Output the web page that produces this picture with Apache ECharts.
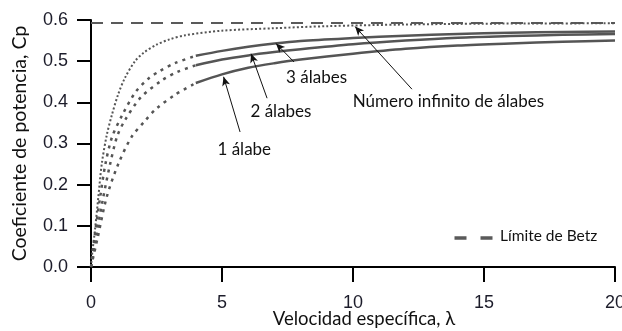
<!DOCTYPE html>
<html>
<head>
<meta charset="utf-8">
<script src="https://cdn.jsdelivr.net/npm/echarts@6/dist/echarts.min.js"></script>
<style>html,body{margin:0;padding:0;background:#fff}#c{width:622px;height:331px}</style>
</head>
<body>
<div id="c"></div>
<script>
// ---- data (λ, Cp) ----
var xTicks = [0, 5, 10, 15, 20];
var yTicks = [0.0, 0.1, 0.2, 0.3, 0.4, 0.5, 0.6];
var betz = [[0, 0.593], [20, 0.593]];
var infiniteBlades = [[0,0],[0.03,0.024],[0.15,0.089],[0.28,0.17],[0.41,0.25],[0.6,0.32],[0.8,0.37],[1.04,0.42],[1.3,0.46],[1.68,0.50],[2.0,0.52],[2.5,0.54],[3,0.553],[3.6,0.563],[5,0.574],[7,0.580],[9,0.585],[12,0.589],[15,0.591],[20,0.592]];
var blade3Low = [[0,0],[0.15,0.08],[0.35,0.17],[0.55,0.25],[0.8,0.315],[1.2,0.37],[1.7,0.425],[2.2,0.458],[2.6,0.475],[3.2,0.495],[4,0.513]];
var blade3High = [[4,0.513],[5,0.525],[6,0.535],[7,0.543],[8,0.549],[10,0.556],[12,0.562],[14,0.566],[16,0.569],[18,0.571],[20,0.572]];
var blade2Low = [[0,0],[0.2,0.075],[0.47,0.17],[0.73,0.25],[1.0,0.318],[1.3,0.357],[1.9,0.412],[2.7,0.453],[3.3,0.474],[4,0.490]];
var blade2High = [[4,0.490],[5,0.504],[6,0.514],[7,0.522],[8,0.529],[10,0.541],[12,0.550],[14,0.557],[16,0.561],[18,0.564],[20,0.566]];
var blade1Low = [[0,0],[0.25,0.07],[0.6,0.17],[1.04,0.25],[1.55,0.316],[2.06,0.355],[2.5,0.385],[3.2,0.418],[4,0.447]];
var blade1High = [[4,0.447],[5,0.468],[6,0.484],[7,0.495],[8,0.504],[10,0.518],[12,0.530],[14,0.538],[16,0.543],[18,0.547],[20,0.550]];
// annotation labels and arrows (data coordinates)
var labelTexts = ['3 álabes', '2 álabes', '1 álabe', 'Número infinito de álabes'];
var labelCoords = [[8.61, 0.461], [7.25, 0.377], [5.85, 0.286], [13.64, 0.401]];
var arrowFrom = [[7.75, 0.498], [6.72, 0.410], [5.69, 0.328], [12.25, 0.432]];
var arrowTo = [[7.06, 0.543], [6.11, 0.518], [5.06, 0.462], [10.08, 0.584]];
var legendLabel = 'Límite de Betz';

var GRAY = '#555';
var chart = echarts.init(document.getElementById('c'), null, {renderer: 'canvas'});

function curve(name, data, type, width) {
  return {
    name: name, type: 'line', data: data, smooth: 0.3, symbol: 'none',
    silent: true, z: 3,
    lineStyle: {color: GRAY, width: width, type: type, cap: 'butt'}
  };
}

var series = [
  {
    name: legendLabel, type: 'line', data: betz, symbol: 'none', silent: true,
    lineStyle: {color: '#5a5a5a', width: 2, type: [12, 8], cap: 'butt'},
    markLine: {
      silent: true, animation: false, symbol: ['none', 'arrow'], symbolSize: [6, 9],
      label: {show: false},
      lineStyle: {color: '#111', width: 1, type: 'solid'},
      data: arrowFrom.map(function (f, i) { return [{coord: f}, {coord: arrowTo[i]}]; })
    },
    markPoint: {
      silent: true, animation: false,
      data: labelTexts.map(function (t, i) {
        return {
          coord: labelCoords[i], symbol: 'circle', symbolSize: 0,
          label: {show: true, position: 'inside', formatter: t, color: '#111',
                  fontFamily: 'Lato', fontSize: 17}
        };
      })
    }
  },
  curve('inf', infiniteBlades, [2, 2.2], 2),
  curve('b3l', blade3Low, [3, 5], 2.5),
  curve('b3h', blade3High, 'solid', 2.5),
  curve('b2l', blade2Low, [3, 5], 2.5),
  curve('b2h', blade2High, 'solid', 2.5),
  curve('b1l', blade1Low, [3, 5], 2.5),
  curve('b1h', blade1High, 'solid', 2.5)
];

chart.setOption({
  animation: false,
  backgroundColor: '#fff',
  grid: {left: 91, right: 7, top: 20, bottom: 64, containLabel: false, outerBoundsMode: 'none'},
  graphic: [
    {type: 'line', left: 452, top: 235.5, silent: true,
     shape: {x1: 0, y1: 0, x2: 38, y2: 0},
     style: {stroke: '#5a5a5a', lineWidth: 3.5, lineDash: [12, 14]}},
    {type: 'text', left: 500, top: 228, silent: true,
     style: {text: legendLabel, font: '15.5px Lato', fill: '#111'}}
  ],
  xAxis: {
    type: 'value', min: xTicks[0], max: xTicks[xTicks.length - 1], interval: 5,
    name: 'Velocidad específica, λ', nameLocation: 'middle', nameGap: 43, nameMoveOverlap: false,
    nameTextStyle: {fontFamily: 'Lato', fontSize: 18.5, color: '#111', padding: [0, 0, 0, 22]},
    axisLine: {show: true, onZero: false, lineStyle: {color: '#000', width: 2}},
    axisTick: {show: true, inside: false, length: 15, lineStyle: {color: '#000', width: 2}},
    axisLabel: {margin: 27, fontFamily: 'Liberation Sans', fontSize: 18, color: '#1c1c2a'},
    splitLine: {show: false}
  },
  yAxis: {
    type: 'value', min: yTicks[0], max: yTicks[yTicks.length - 1], interval: 0.1,
    name: 'Coeficiente de potencia, Cp', nameLocation: 'middle', nameGap: 61, nameMoveOverlap: false,
    nameTextStyle: {fontFamily: 'Lato', fontSize: 19.5, color: '#111'},
    axisLine: {show: true, onZero: false, lineStyle: {color: '#000', width: 2}},
    axisTick: {show: true, inside: false, length: 14, lineStyle: {color: '#000', width: 2}},
    axisLabel: {margin: 23, fontFamily: 'Liberation Sans', fontSize: 18, color: '#1c1c2a',
                formatter: function (v) { return v.toFixed(1); }},
    splitLine: {show: false}
  },
  series: series
});
</script>
</body>
</html>
